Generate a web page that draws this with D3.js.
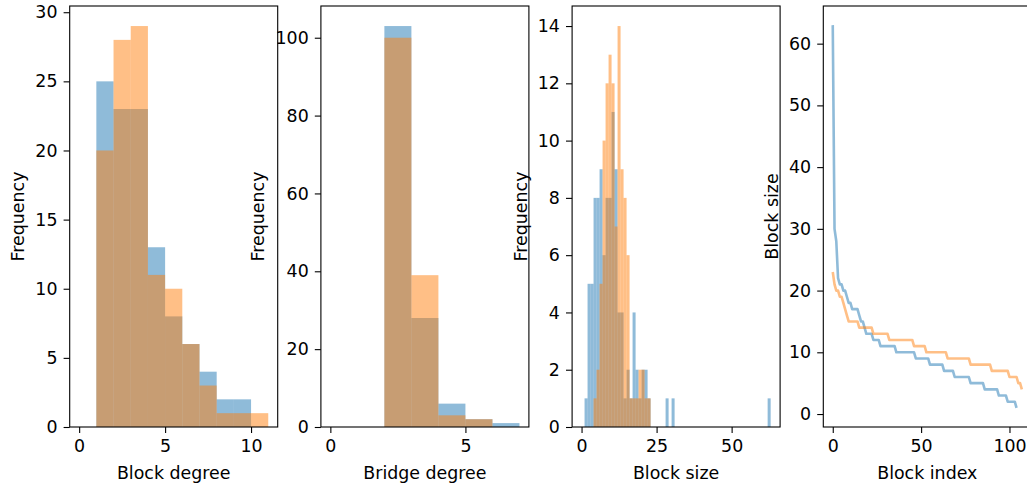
<!DOCTYPE html>
<html>
<head>
<meta charset="utf-8">
<script src="https://cdn.jsdelivr.net/npm/d3@7"></script>
<style>
  body { margin: 0; background: #fff; }
  svg { display: block; font-family: "DejaVu Sans", sans-serif; }
</style>
</head>
<body>
<svg id="chart" width="1027" height="487"></svg>
<script>
// ---- data ----
const degreeEdges = [0, 1, 2, 3, 4, 5, 6, 7, 8, 9, 10, 11];
const blueDegree = [0, 25, 23, 23, 13, 8, 6, 4, 2, 2, 0];
const orangeDegree = [0, 20, 28, 29, 11, 10, 6, 3, 1, 1, 1];

const bridgeEdges = [0, 1, 2, 3, 4, 5, 6, 7];
const blueBridge = [0, 0, 103, 28, 6, 2, 1];
const orangeBridge = [0, 0, 100, 39, 3, 2, 0];

// block sizes, sorted largest first (panel 4 plots them, panel 3 bins them)
const blueSizes = [63, 30, 28, 22, 21, 21, 20, 20, 19, 18, 18, 17, 17, 17, 17, 16, 15, 15, 14,
  13, 13, 13, 13, 12, 12, 12, 12, 11, 11, 11, 11, 11, 11, 11, 11, 11,
  10, 10, 10, 10, 10, 10, 10, 10, 10, 10, 10, 9, 9, 9, 9, 9, 9, 9, 9,
  8, 8, 8, 8, 8, 8, 8, 8, 7, 7, 7, 7, 7, 7, 6, 6, 6, 6, 6, 6, 6, 6, 6,
  5, 5, 5, 5, 5, 5, 5, 5, 4, 4, 4, 4, 4, 4, 4, 4, 3, 3, 3, 3, 3, 2, 2, 2, 2, 2, 1];
const orangeSizes = [23, 21, 20, 20, 19, 19, 18, 17, 16, 15, 15, 15, 15, 15, 15,
  14, 14, 14, 14, 14, 14, 14, 14, 13, 13, 13, 13, 13, 13, 13, 13, 13,
  12, 12, 12, 12, 12, 12, 12, 12, 12, 12, 12, 12, 12, 12, 11, 11, 11, 11, 11, 11, 11,
  10, 10, 10, 10, 10, 10, 10, 10, 10, 10, 10, 10, 9, 9, 9, 9, 9, 9, 9, 9, 9, 9, 9, 9, 9,
  8, 8, 8, 8, 8, 8, 8, 8, 8, 8, 8, 8, 7, 7, 7, 7, 7, 7, 7, 7, 7, 7,
  6, 6, 6, 6, 6, 5, 5, 4];

const panelXLabels = ['Block degree', 'Bridge degree', 'Block size', 'Block index'];
const panelYLabels = ['Frequency', 'Frequency', 'Frequency', 'Block size'];

const colors = ['#1f77b4', '#ff7f0e'];
const fontSize = 17.4;
const tickLen = 6.1;

let svg = d3.select('#chart');
svg.append('rect').attr('width', 1027).attr('height', 487).attr('fill', '#fff');

let plotTop = 6, plotBottom = 427, plotWidth = 208;
let lefts = [69.7, 320.9, 572.1, 823.3];

function margins(lo, hi){
    let m = (hi - lo) * 0.05;
    return [lo - m, hi + m];
}

function makeAxes(i, xDomain, yDomain, xTicks, yTicks){
    let left = lefts[i];
    let x = d3.scaleLinear().domain(xDomain).range([left, left + plotWidth]);
    let y = d3.scaleLinear().domain(yDomain).range([plotBottom, plotTop]);
    let g = svg.append('g').attr('class', 'panel-' + i);
    return {g, x, y, left, xTicks, yTicks};
}

function finishAxes(p, i){
    let gx = p.g.append('g')
        .attr('transform', 'translate(0,' + plotBottom + ')')
        .call(d3.axisBottom(p.x).tickValues(p.xTicks).tickSizeOuter(0).tickSize(tickLen).tickPadding(6.1).tickFormat(d3.format('d')));
    let gy = p.g.append('g')
        .attr('transform', 'translate(' + p.left + ',0)')
        .call(d3.axisLeft(p.y).tickValues(p.yTicks).tickSizeOuter(0).tickSize(tickLen).tickPadding(6.1).tickFormat(d3.format('d')));
    for (let a of [gx, gy]){
        a.select('.domain').remove();
        a.selectAll('line').attr('stroke', '#000').attr('stroke-width', 1.1);
        a.selectAll('text').attr('fill', '#000').attr('font-size', fontSize).attr('font-family', 'DejaVu Sans');
    }

    // frame (spines)
    p.g.append('rect')
        .attr('x', p.left)
        .attr('y', plotTop)
        .attr('width', plotWidth)
        .attr('height', plotBottom - plotTop)
        .attr('fill', 'none')
        .attr('stroke', '#000')
        .attr('stroke-width', 1.1);

    p.g.append('text')
        .attr('x', p.left + plotWidth / 2)
        .attr('y', 479)
        .attr('text-anchor', 'middle')
        .attr('font-size', fontSize)
        .attr('fill', '#000')
        .text(panelXLabels[i]);

    // place the y label just left of the widest tick label
    let minX = d3.min(gy.selectAll('text').nodes().map(n => n.getBBox().x)) + p.left;
    let bx = minX - 6.9 - 4.1;
    p.g.append('text')
        .attr('transform', 'translate(' + bx + ',' + ((plotTop + plotBottom) / 2) + ') rotate(-90)')
        .attr('text-anchor', 'middle')
        .attr('font-size', fontSize)
        .attr('fill', '#000')
        .text(panelYLabels[i]);
}

function drawBars(p, edges, counts, color){
    for (let k = 0; k < counts.length; k++){
        if (counts[k] == 0) continue;
        p.g.append('rect')
            .attr('x', p.x(edges[k]))
            .attr('y', p.y(counts[k]))
            .attr('width', p.x(edges[k + 1]) - p.x(edges[k]))
            .attr('height', p.y(0) - p.y(counts[k]))
            .attr('fill', color)
            .attr('fill-opacity', 0.5);
    }
}

function drawBins(p, bins, color){
    for (let b of bins){
        if (b.length == 0) continue;
        p.g.append('rect')
            .attr('x', p.x(b.x0))
            .attr('y', p.y(b.length))
            .attr('width', p.x(b.x1) - p.x(b.x0))
            .attr('height', p.y(0) - p.y(b.length))
            .attr('fill', color)
            .attr('fill-opacity', 0.5);
    }
}

// panel 1: block degree
let maxDeg = d3.max(blueDegree.concat(orangeDegree));
let p1 = makeAxes(0, margins(degreeEdges[0], degreeEdges[degreeEdges.length - 1]), [0, maxDeg * 1.05], [0, 5, 10], d3.range(0, 31, 5));
drawBars(p1, degreeEdges, blueDegree, colors[0]);
drawBars(p1, degreeEdges, orangeDegree, colors[1]);
finishAxes(p1, 0);

// panel 2: bridge degree
let maxBr = d3.max(blueBridge.concat(orangeBridge));
let p2 = makeAxes(1, margins(bridgeEdges[0], bridgeEdges[bridgeEdges.length - 1]), [0, maxBr * 1.05], [0, 5], d3.range(0, 101, 20));
drawBars(p2, bridgeEdges, blueBridge, colors[0]);
drawBars(p2, bridgeEdges, orangeBridge, colors[1]);
finishAxes(p2, 1);

// panel 3: block size histogram, one bin per unit
let binner = (vals) => {
    let lo = d3.min(vals), hi = d3.max(vals);
    return d3.bin().domain([lo, hi]).thresholds(d3.range(lo + 1, hi))(vals);
};
let blueBins = binner(blueSizes);
let orangeBins = binner(orangeSizes);
let maxSz = d3.max(blueBins.concat(orangeBins), b => b.length);
let p3 = makeAxes(2, margins(0, d3.max(blueSizes.concat(orangeSizes))), [0, maxSz * 1.05], [0, 25, 50], d3.range(0, 15, 2));
drawBins(p3, blueBins, colors[0]);
drawBins(p3, orangeBins, colors[1]);
finishAxes(p3, 2);

// panel 4: sorted block sizes
let allSizes = blueSizes.concat(orangeSizes);
let p4 = makeAxes(3, margins(0, Math.max(blueSizes.length, orangeSizes.length) - 1),
    margins(d3.min(allSizes), d3.max(allSizes)), [0, 50, 100], d3.range(0, 61, 10));
let line = d3.line().x((d, i) => p4.x(i)).y(d => p4.y(d));
for (let [k, series] of [blueSizes, orangeSizes].entries()){
    p4.g.append('path')
        .attr('d', line(series))
        .attr('fill', 'none')
        .attr('stroke', colors[k])
        .attr('stroke-opacity', 0.5)
        .attr('stroke-width', 2.6)
        .attr('stroke-linejoin', 'round')
        .attr('stroke-linecap', 'butt');
}
finishAxes(p4, 3);
</script>
</body>
</html>
